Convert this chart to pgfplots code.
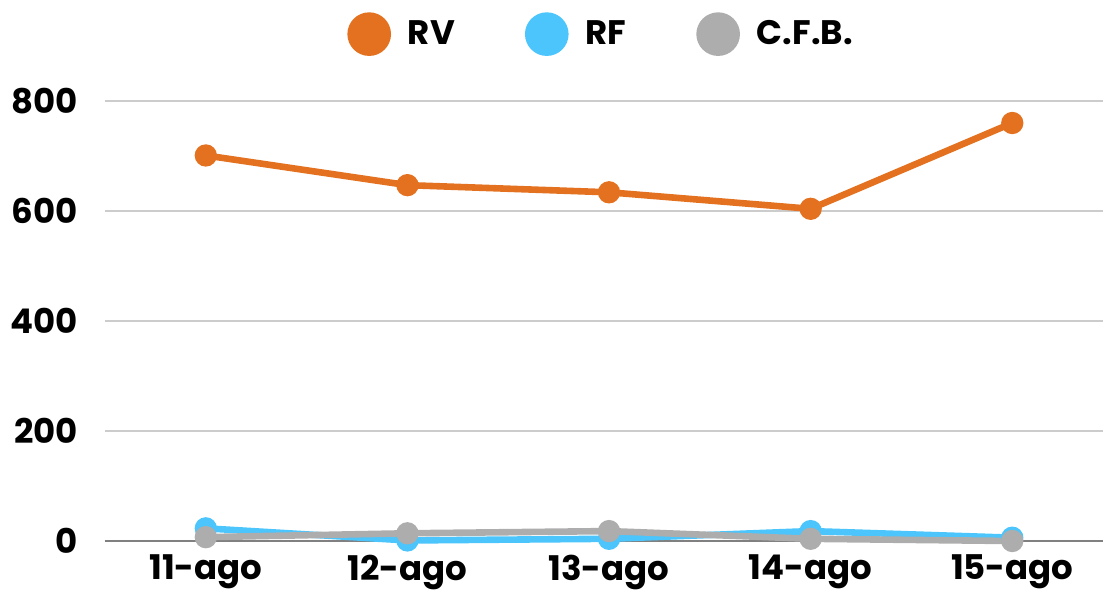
\documentclass[border=0pt]{standalone}
\usepackage{fontspec}
\setmainfont{Poppins}
\usepackage{pgfplots}
\pgfplotsset{compat=1.18}
\definecolor{cRV}{HTML}{E3711F}
\definecolor{cRF}{HTML}{4BC5FB}
\definecolor{cCFB}{HTML}{ADADAD}
\begin{document}
\begin{tikzpicture}
\path[use as bounding box] (-52.5pt,-26.5pt) rectangle (499pt,270.5pt);
\begin{axis}[
  at={(0,0)}, anchor=south west,
  scale only axis, width=499pt, height=220pt,
  xmin=-0.5, xmax=4.45, ymin=0, ymax=800,
  clip=false,
  axis line style={draw=none},
  xtick={0,1,2,3,4},
  xticklabels={11-ago,12-ago,13-ago,14-ago,15-ago},
  ytick={0,200,400,600,800},
  ymajorgrids, grid style={line width=0.6pt, color=black!20},
  major tick length=0pt,
  tick label style={font=\fontsize{17}{20}\selectfont\bfseries},
  yticklabel style={xshift=-10pt},
  xticklabel style={yshift=-3.5pt},
  /pgf/number format/assume math mode=true,
  legend columns=3,
  legend style={at={(0.496,1.152)}, anchor=center, draw=none, fill=none,
    font=\fontsize{17}{20}\selectfont\bfseries,
    nodes={inner sep=0pt},
    /tikz/every odd column/.append style={column sep=8.5pt},
    /tikz/every even column/.append style={column sep=35pt},
    inner sep=0pt},
  legend image code/.code={\fill[#1] (0pt,0) circle (9.25pt);},
  every axis plot/.append style={line width=3.3pt, mark=*, mark size=3.9pt},
]
\draw[color=black!50, line width=0.8pt] (axis cs:-0.5,0) -- (axis cs:4.45,0);
\addplot[color=cRV, mark options={fill=cRV}] coordinates {(0,701) (1,647) (2,634) (3,604) (4,760)};
\addlegendentry{RV}
\addplot[color=cRF, mark options={fill=cRF}] coordinates {(0,23) (1,1) (2,4) (3,18) (4,6)};
\addlegendentry{RF}
\addplot[color=cCFB, mark options={fill=cCFB}] coordinates {(0,7) (1,14) (2,18) (3,4) (4,0)};
\addlegendentry{C.F.B.}
\end{axis}
\end{tikzpicture}
\end{document}
